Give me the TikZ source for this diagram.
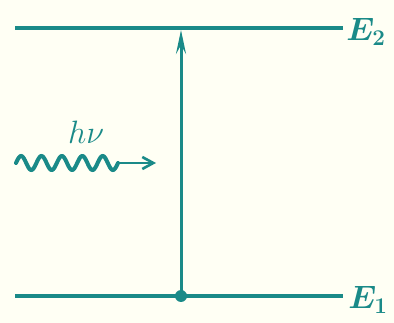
\documentclass[tikz,border=0pt]{standalone}
\usetikzlibrary{arrows.meta}
\definecolor{teal1}{HTML}{1A8A88}
\definecolor{bgc}{HTML}{FFFFF4}
\begin{document}
\begin{tikzpicture}[x=1pt,y=-1pt,
  level/.style={draw=teal1,line width=3.6pt},
  trans/.style={draw=teal1,line width=3pt},
  lbl/.style={text=teal1,font=\fontsize{24}{28}\selectfont\boldmath,inner sep=0pt,scale=1.3}]
\fill[bgc] (0,0) rectangle (394,323);
\useasboundingbox (0,0) rectangle (394,323);
% levels
\coordinate (l2a) at (15,28);
\coordinate (l2b) at (343,28);
\coordinate (l1a) at (15,296);
\coordinate (l1b) at (343,296);
\draw[level] (l2a) -- (l2b);
\draw[level] (l1a) -- (l1b);
\node[lbl,anchor=west] (E2) at (346,32) {$E_{\scriptstyle 2}$};
\node[lbl,anchor=west] (E1) at (348,300) {$E_{\scriptstyle 1}$};
% transition
\node[circle,fill=teal1,inner sep=0pt,minimum size=12pt] (dot) at (181,296) {};
\coordinate (top) at (181,30);
\draw[trans,-{Stealth[length=24pt,width=10pt,inset=9pt]}] (dot.center) -- (top);
% photon
\coordinate (w0) at (16,163);
\coordinate (w1) at (118,163);
\coordinate (wend) at (156,163);
\draw[teal1,line width=4pt,line cap=round] plot[domain=0:102,samples=160,smooth] ({16+\x},{163-7*sin(\x/20.4*360)});
\draw[teal1,line width=2.6pt,-{Straight Barb[length=11pt,width=12pt]}] (w1) -- (wend);
\node[lbl,font=\fontsize{24}{28}\selectfont] (hv) at (86,132) {$h\nu$};
\end{tikzpicture}
\end{document}
